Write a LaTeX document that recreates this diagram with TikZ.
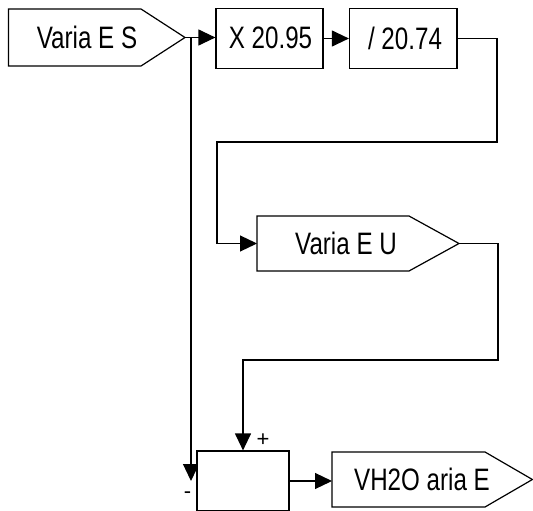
\documentclass[tikz,border=0pt]{standalone}
\usepackage{fontspec}
\usepackage{graphicx}
\setmainfont{Liberation Sans}
\usetikzlibrary{arrows.meta}
\begin{document}
\begin{tikzpicture}[x=1pt,y=-1pt,
  wire/.style={draw, line width=1.2pt},
  arr/.style={wire,-{Triangle[length=17pt,width=16pt]}},
  lbl/.style={font=\fontsize{31}{31}\selectfont, inner sep=0pt},
  boxn/.style={draw, fill=white, line width=1.2pt, inner sep=0pt},
  pent/.style={draw, fill=white, line width=1.2pt},
  sgn/.style={font=\fontsize{22}{22}\selectfont, inner sep=0pt}]
\useasboundingbox (0,0) rectangle (533,511);

% input signal Varia E S
\draw[pent] (8.5,9) -- (141,9) -- (185,37.5) -- (141,66) -- (8.5,66) -- cycle;
\node[lbl] (ves) at (87,37.5) {\scalebox{0.78}[1]{Varia E S}};
\coordinate (vesout) at (185,37.5);
\coordinate (br) at (191,37.5);

% multiply / divide boxes
\node[boxn, minimum width=107pt, minimum height=60pt] (x) at (269.5,38.5) {};
\node[lbl] (xt) at (270.5,38) {\scalebox{0.78}[1]{X 20.95}};
\node[boxn, minimum width=107.5pt, minimum height=60pt] (d) at (403.25,38.5) {};
\node[lbl] (dt) at (405,38) {\scalebox{0.78}[1]{/ 20.74}};

% Varia E U
\draw[pent] (257,216) -- (409,216) -- (459,243.5) -- (409,271) -- (257,271) -- cycle;
\coordinate (veuin) at (257,243.5);
\coordinate (veuout) at (459,243.5);
\node[lbl] (veu) at (346,243.5) {\scalebox{0.78}[1]{Varia E U}};

% output VH2O aria E
\draw[pent] (332,452) -- (485,452) -- (532.4,479.5) -- (485,507) -- (332,507) -- cycle;
\coordinate (vhin) at (332,479.5);
\node[lbl] (vh) at (422,479.5) {\scalebox{0.78}[1]{VH2O aria E}};

% bend points
\coordinate (c1) at (497,142);
\coordinate (c2) at (217,142);
\coordinate (c3) at (498,360);
\coordinate (c4) at (243,360);
\coordinate (mn) at (191,481);

% connectors
\draw[arr] (vesout) -- (vesout -| x.west);
\draw[arr] (x.east) -- (d.west);
\draw[arr] (d.east) -| (c1) -- (c2) |- (veuin);
\draw[arr] (br) -- (mn);

% sum box
\node[boxn, minimum width=92pt, minimum height=60pt] (sum) at (243,481) {};
\draw[arr] (veuout) -| (c3) -- (c4) -- (sum.north);
\draw[arr] (sum.east) -- (sum.east -| vhin);

\node[sgn] (plus) at (263,440) {+};
\node[sgn] (minus) at (187.5,495) {-};
\end{tikzpicture}
\end{document}
